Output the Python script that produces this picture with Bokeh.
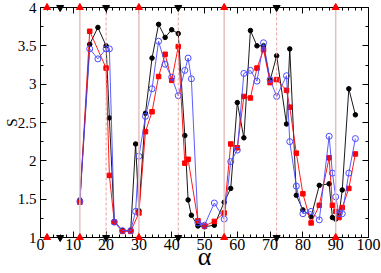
from bokeh.plotting import figure
from bokeh.models import (FixedTicker, LinearAxis, Span, Range1d, ColumnDataSource,
                          CustomLabelingPolicy)
from bokeh.embed import file_html
from bokeh.resources import INLINE

# ---- data ----
x_black = [12, 15, 17.5, 20, 21, 22.5, 25, 27.5, 29, 30, 32, 34, 36, 38, 40, 42, 44, 45, 46, 48, 50,
           53, 56, 58, 60, 62, 64, 66, 68, 70, 72, 75, 76, 78, 80, 82.5, 85, 88, 89, 90, 91, 92, 94, 96]
s_black = [1.49, 3.52, 3.74, 3.50, 2.56, 1.21, 1.09, 1.09, 2.22, 1.35, 2.62, 3.34, 3.78, 3.61, 3.71, 3.66,
           2.33, 1.49, 1.29, 1.15, 1.14, 1.16, 1.46, 1.64, 2.76, 2.30, 3.70, 3.50, 3.50, 3.05, 3.37, 2.48,
           3.46, 1.55, 1.36, 1.27, 1.68, 1.70, 1.26, 1.24, 1.29, 1.62, 2.94, 2.60]

x_red = [12, 15, 20, 21, 22.5, 25, 27.5, 30, 32, 34, 36, 38, 40, 42, 44, 45, 48, 50, 53, 56, 58, 60,
         62, 64, 66, 68, 70, 72, 75, 76, 78, 80, 82.5, 85, 88, 89, 90, 91, 92, 94, 96]
s_red = [1.46, 3.69, 3.21, 1.81, 1.20, 1.08, 1.08, 1.32, 2.38, 2.64, 3.10, 3.39, 3.05, 3.49, 1.97, 2.02,
         1.22, 1.15, 1.21, 1.32, 2.22, 2.17, 2.84, 2.82, 3.21, 3.45, 3.02, 3.06, 2.92, 2.70, 2.10, 1.57,
         1.19, 1.42, 2.04, 1.42, 1.34, 1.26, 1.39, 1.64, 2.09]

x_blue = [12, 15, 17.5, 20, 21, 22.5, 25, 27.5, 29, 30, 32, 34, 36, 38, 40, 42, 44, 45, 46, 48, 50,
          53, 56, 58, 60, 62, 64, 66, 68, 70, 72, 75, 76, 78, 80, 82.5, 85, 88, 89, 90, 91, 92, 94, 96]
s_blue = [1.47, 3.46, 3.33, 3.46, 3.46, 1.20, 1.09, 1.09, 1.34, 2.06, 2.58, 2.94, 3.56, 3.26, 3.09, 2.85,
          3.18, 3.34, 3.07, 1.19, 1.16, 1.45, 1.24, 1.99, 2.14, 3.14, 3.18, 3.04, 3.54, 3.06, 2.84, 3.11,
          2.25, 1.67, 1.31, 1.34, 1.23, 2.32, 1.84, 1.53, 1.31, 1.31, 1.84, 2.29]

solid_lines = [12, 30, 56, 90]
dashed_lines = [20, 42, 72]
up_marks = [2, 12, 30, 56, 90]
down_marks = [6, 20, 42, 72]

x_ticks = [0, 10, 20, 30, 40, 50, 60, 70, 80, 90, 100]
x_tick_labels = ["0", "10", "20", "30", "40", "50", "60", "70", "80", "90", "100"]
x_minor = [2, 4, 6, 8, 12, 14, 16, 18, 22, 24, 26, 28, 32, 34, 36, 38, 42, 44, 46, 48, 52, 54, 56, 58,
           62, 64, 66, 68, 72, 74, 76, 78, 82, 84, 86, 88, 92, 94, 96, 98]
y_ticks = [1, 1.5, 2, 2.5, 3, 3.5, 4]
y_tick_labels = ["1", "1.5", "2", "2.5", "3", "3.5", "4"]
y_minor = [1.25, 1.75, 2.25, 2.75, 3.25, 3.75]

x_title = "α"
y_title = "S"

X_MIN, X_MAX = 0, 100
Y_MIN, Y_MAX = 1, 4

FONT = "Liberation Serif"

p = figure(width=381, height=273, x_range=Range1d(X_MIN, X_MAX), y_range=Range1d(Y_MIN, Y_MAX),
           output_backend="svg", toolbar_location=None,
           min_border_left=40, min_border_right=13, min_border_top=7, min_border_bottom=36)
p.grid.visible = False
p.outline_line_color = "black"
p.outline_line_width = 1
p.background_fill_color = "white"
p.border_fill_color = "white"

# reference lines
for xv in solid_lines:
    p.add_layout(Span(location=xv, dimension="height", line_color="#e6c0c0", line_width=1.5))
for xv in dashed_lines:
    p.add_layout(Span(location=xv, dimension="height", line_color="#e8a0a0", line_width=1,
                      line_dash="3 2"))

# series
p.line(x_black, s_black, line_color="black", line_width=0.9)
p.scatter(x_black, s_black, marker="circle", size=4.5, color="black")

p.line(x_red, s_red, line_color="#ff0000", line_width=0.9)
p.scatter(x_red, s_red, marker="square", size=4.5, color="#ff0000")

p.line(x_blue, s_blue, line_color="#4a4aff", line_width=0.9)
p.scatter(x_blue, s_blue, marker="circle", size=6, fill_color=None, line_color="#4a4aff",
          line_width=1)

# edge markers
up_src = ColumnDataSource(dict(x=up_marks + up_marks,
                               y=[Y_MAX] * len(up_marks) + [Y_MIN] * len(up_marks)))
down_src = ColumnDataSource(dict(x=down_marks + down_marks,
                                 y=[Y_MAX] * len(down_marks) + [Y_MIN] * len(down_marks)))
p.scatter("x", "y", source=up_src, marker="triangle", size=7, color="#ff0000", level="overlay")
p.scatter("x", "y", source=down_src, marker="inverted_triangle", size=7, color="black",
          level="overlay")

no_labels = CustomLabelingPolicy(code="""
try { indices.clear() } catch (e) {
  for (let i = 0; i < 64; i++) { try { indices.unset(i) } catch (e2) {} }
}
return indices
""")


def style_axis(ax, ticks, minor, labels, show_labels):
    ax.ticker = FixedTicker(ticks=ticks, minor_ticks=minor)
    ax.major_tick_in = 6
    ax.major_tick_out = 0
    ax.minor_tick_in = 3
    ax.minor_tick_out = 0
    ax.axis_line_color = "black"
    ax.major_tick_line_color = "black"
    ax.minor_tick_line_color = "black"
    if show_labels:
        ax.major_label_overrides = {t: l for t, l in zip(ticks, labels)}
        ax.major_label_text_font = FONT
        ax.major_label_text_font_size = "16px"
        ax.major_label_text_color = "black"
    else:
        ax.major_label_policy = no_labels
        ax.major_label_text_font_size = "0px"
        ax.major_label_standoff = 0


xa = p.xaxis[0]
style_axis(xa, x_ticks, x_minor, x_tick_labels, True)
xa.major_label_standoff = 1
xa.axis_label = x_title
xa.axis_label_text_font = FONT
xa.axis_label_text_font_style = "normal"
xa.axis_label_text_font_size = "26px"
xa.axis_label_text_color = "black"
xa.axis_label_standoff = -11

ya = p.yaxis[0]
style_axis(ya, y_ticks, y_minor, y_tick_labels, True)
ya.major_label_text_font_size = "15px"
ya.major_label_standoff = 4
ya.axis_label = y_title
ya.axis_label_text_font = FONT
ya.axis_label_text_font_style = "normal"
ya.axis_label_text_font_size = "15px"
ya.axis_label_text_color = "black"
ya.axis_label_standoff = -5

top = LinearAxis()
style_axis(top, x_ticks, x_minor, x_tick_labels, False)
p.add_layout(top, "above")
right = LinearAxis()
style_axis(right, y_ticks, y_minor, y_tick_labels, False)
p.add_layout(right, "right")

open("out.html", "w").write(file_html(p, INLINE))
